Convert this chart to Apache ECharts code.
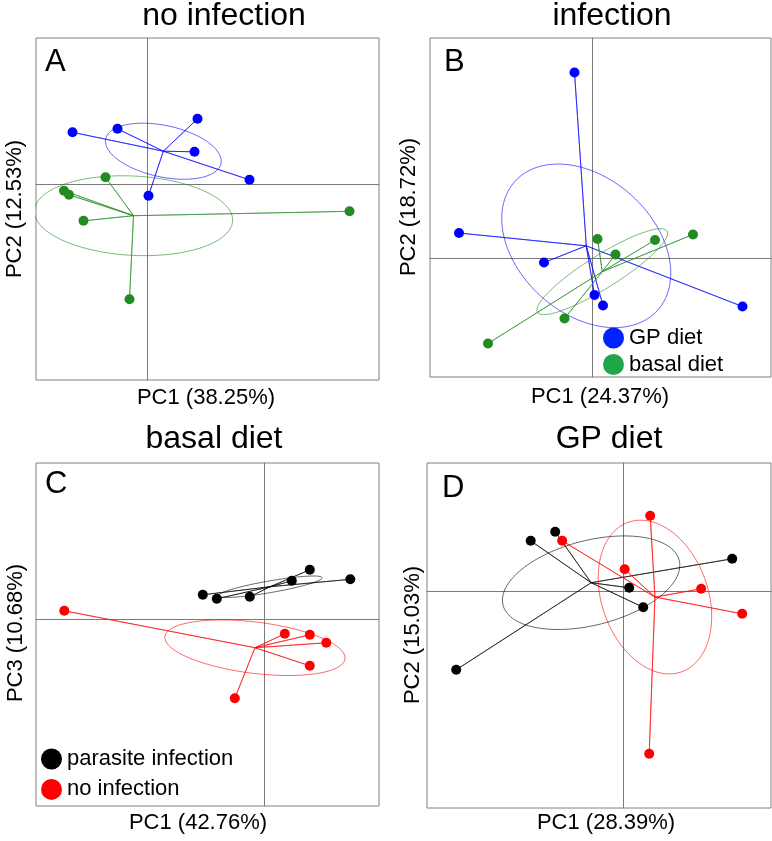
<!DOCTYPE html>
<html>
<head>
<meta charset="utf-8">
<script src="https://cdn.jsdelivr.net/npm/echarts@6/dist/echarts.min.js"></script>
<style>html,body{margin:0;padding:0;background:#fff}#c{width:772px;height:841px}</style>
</head>
<body>
<div id="c"></div>
<script>
// ---------- data (PCA scores) ----------
// Panel A: no infection (PC1 vs PC2)
const aGPx    = [-1.49, -0.59, 1.01, 0.95, 2.05, 0.03];
const aGPy    = [ 1.04,  1.11, 1.31, 0.65, 0.09, -0.23];
const aBasalx = [-0.83, -1.66, -1.56, -1.27, -0.35, 4.05];
const aBasaly = [ 0.14, -0.13, -0.21, -0.73, -2.30, -0.54];
// Panel B: infection (PC1 vs PC2)
const bGPx    = [-0.35, -2.66, -0.96, 0.05, 0.22, 3.01];
const bGPy    = [ 3.71,  0.50, -0.09, -0.74, -0.95, -0.97];
const bBasalx = [ 0.11, 1.26, 2.02, 0.47, -0.55, -2.08];
const bBasaly = [ 0.38, 0.36, 0.47, 0.07, -1.21, -1.71];
// Panel C: basal diet (PC1 vs PC3)
const cInfx   = [0.91, 1.72, 0.55, -1.23, -0.95, -0.29];
const cInfy   = [0.99, 0.80, 0.77, 0.49, 0.41, 0.45];
const cNoInfx = [-4.00, 0.41, 0.91, 1.24, 0.91, -0.59];
const cNoInfy = [ 0.17, -0.29, -0.31, -0.47, -0.93, -1.58];
// Panel D: GP diet (PC1 vs PC2)
const dInfx   = [-1.86, -1.37, 0.11, 0.39, 2.17, -3.35];
const dInfy   = [ 1.01, 1.19, 0.07, -0.32, 0.65, -1.57];
const dNoInfx = [0.53, -1.23, 0.02, 1.55, 2.37, 0.51];
const dNoInfy = [1.51, 1.01, 0.44, 0.05, -0.45, -3.25];

const panelTitles  = ['no infection', 'infection', 'basal diet', 'GP diet'];
const panelLetters = ['A', 'B', 'C', 'D'];
const xLabels = ['PC1 (38.25%)', 'PC1 (24.37%)', 'PC1 (42.76%)', 'PC1 (28.39%)'];
const yLabels = ['PC2 (12.53%)', 'PC2 (18.72%)', 'PC3 (10.68%)', 'PC2 (15.03%)'];
const dietNames = ['GP diet', 'basal diet'];
const infNames  = ['parasite infection', 'no infection'];

// ---------- layout / style ----------
const grids = [
  {left: 36,  top: 38,  width: 343, height: 342},
  {left: 430, top: 38,  width: 341, height: 339},
  {left: 36,  top: 463, width: 343, height: 343},
  {left: 427, top: 463, width: 344, height: 345}
];
const ranges = [
  {xmin: -2.22,  xmax: 4.64,  ymin: -3.914, ymax: 2.926},
  {xmin: -3.24,  xmax: 3.58,  ymin: -2.38,  ymax: 4.40},
  {xmin: -4.566, xmax: 2.294, ymin: -3.734, ymax: 3.126},
  {xmin: -3.934, xmax: 2.946, ymin: -4.334, ymax: 2.566}
];
const BLUE = '#0000ff', GREEN = '#228b22', RED = '#ff0000', BLACK = '#000000';
const FONT = '"Liberation Sans", Arial, Helvetica, sans-serif';

function zip(xs, ys){ return xs.map((x, i) => [x, ys[i]]); }
function centroid(xs, ys){
  const n = xs.length;
  return [xs.reduce((a,b)=>a+b,0)/n, ys.reduce((a,b)=>a+b,0)/n];
}
function spider(xs, ys){
  const c = centroid(xs, ys), out = [];
  xs.forEach((x, i) => { out.push(c); out.push([x, ys[i]]); });
  out.push(c);
  return out;
}
function ellipse(xs, ys){
  const n = xs.length, c = centroid(xs, ys);
  let sxx = 0, syy = 0, sxy = 0;
  xs.forEach((x, i) => {
    const dx = x - c[0], dy = ys[i] - c[1];
    sxx += dx*dx; syy += dy*dy; sxy += dx*dy;
  });
  sxx /= n; syy /= n; sxy /= n;
  const tr = sxx + syy, det = sxx*syy - sxy*sxy;
  const d = Math.sqrt(Math.max(tr*tr/4 - det, 0));
  const l1 = tr/2 + d, l2 = Math.max(tr/2 - d, 0);
  let vx, vy;
  if (Math.abs(sxy) > 1e-12) { vx = l1 - syy; vy = sxy; }
  else if (sxx >= syy) { vx = 1; vy = 0; } else { vx = 0; vy = 1; }
  const norm = Math.hypot(vx, vy); vx /= norm; vy /= norm;
  const a = Math.sqrt(l1), b = Math.sqrt(l2), pts = [];
  for (let k = 0; k <= 120; k++) {
    const t = 2*Math.PI*k/120, ct = Math.cos(t)*a, st = Math.sin(t)*b;
    pts.push([c[0] + ct*vx - st*vy, c[1] + ct*vy + st*vx]);
  }
  return pts;
}

const groups = [
  {p: 0, name: dietNames[0], xs: aGPx, ys: aGPy, color: BLUE},
  {p: 0, name: dietNames[1], xs: aBasalx, ys: aBasaly, color: GREEN},
  {p: 1, name: dietNames[0], xs: bGPx, ys: bGPy, color: BLUE},
  {p: 1, name: dietNames[1], xs: bBasalx, ys: bBasaly, color: GREEN},
  {p: 2, name: infNames[0], xs: cInfx, ys: cInfy, color: BLACK},
  {p: 2, name: infNames[1], xs: cNoInfx, ys: cNoInfy, color: RED},
  {p: 3, name: infNames[0], xs: dInfx, ys: dInfy, color: BLACK},
  {p: 3, name: infNames[1], xs: dNoInfx, ys: dNoInfy, color: RED}
];

const series = [];
groups.forEach(g => {
  series.push({
    type: 'line', name: g.name + ' links', xAxisIndex: g.p, yAxisIndex: g.p,
    data: spider(g.xs, g.ys), symbol: 'none', silent: true, z: 2,
    lineStyle: {color: g.color, width: 0.7, opacity: 0.85}
  });
  series.push({
    type: 'line', name: g.name + ' ellipse', xAxisIndex: g.p, yAxisIndex: g.p,
    data: ellipse(g.xs, g.ys), symbol: 'none', silent: true, z: 2,
    lineStyle: {color: g.color, width: 0.7, opacity: 0.85}
  });
});
groups.forEach(g => {
  series.push({
    type: 'scatter', name: g.name, xAxisIndex: g.p, yAxisIndex: g.p,
    data: zip(g.xs, g.ys), symbol: 'circle', symbolSize: 10, z: 5,
    itemStyle: {color: g.color, opacity: 1}
  });
});

const axisCommon = {
  type: 'value',
  axisLine: {show: true, onZero: true, lineStyle: {color: '#7a7a7a', width: 1}},
  axisTick: {show: false}, axisLabel: {show: false}, splitLine: {show: false}
};

// text elements
const titlePos  = [[224, 16], [612, 16], [214, 439], [609, 439]];
const letterPos = [[45, 62], [444, 62], [45, 484], [442, 488]];
const xLabPos   = [[206, 398], [600, 397], [198, 823], [606, 823]];
const yLabPos   = [[15, 209], [409, 207], [16, 633], [413, 635]];
const graphics = [];
for (let i = 0; i < 4; i++) {
  graphics.push({type: 'text', x: titlePos[i][0], y: titlePos[i][1],
    style: {text: panelTitles[i], font: '32px ' + FONT, fill: '#000', align: 'center', verticalAlign: 'middle'}});
  graphics.push({type: 'text', x: letterPos[i][0], y: letterPos[i][1],
    style: {text: panelLetters[i], font: '31px ' + FONT, fill: '#000', align: 'left', verticalAlign: 'middle'}});
  graphics.push({type: 'text', x: xLabPos[i][0], y: xLabPos[i][1],
    style: {text: xLabels[i], font: '22px ' + FONT, fill: '#000', align: 'center', verticalAlign: 'middle'}});
  graphics.push({type: 'text', x: yLabPos[i][0], y: yLabPos[i][1], rotation: Math.PI/2,
    style: {text: yLabels[i], font: '22px ' + FONT, fill: '#000', align: 'center', verticalAlign: 'middle'}});
}

const option = {
  animation: false,
  backgroundColor: '#ffffff',
  grid: grids.map(g => Object.assign({show: true, borderColor: '#808080', borderWidth: 1,
    backgroundColor: 'transparent', containLabel: false}, g)),
  xAxis: ranges.map((r, i) => Object.assign({gridIndex: i, min: r.xmin, max: r.xmax}, axisCommon)),
  yAxis: ranges.map((r, i) => Object.assign({gridIndex: i, min: r.ymin, max: r.ymax}, axisCommon)),
  legend: [
    {data: [{name: dietNames[0], itemStyle: {color: '#0022ff'}},
            {name: dietNames[1], itemStyle: {color: '#1ea64a'}}],
     orient: 'vertical', left: 603, top: 327, itemWidth: 21, itemHeight: 21, itemGap: 4.5,
     icon: 'circle', selectedMode: false, padding: 0,
     textStyle: {fontSize: 22, fontFamily: FONT, color: '#000', lineHeight: 21}},
    {data: [{name: infNames[0], itemStyle: {color: BLACK}},
            {name: infNames[1], itemStyle: {color: RED}}],
     orient: 'vertical', left: 41, top: 748, itemWidth: 21, itemHeight: 21, itemGap: 8.4,
     icon: 'circle', selectedMode: false, padding: 0,
     textStyle: {fontSize: 22, fontFamily: FONT, color: '#000', lineHeight: 21}}
  ],
  graphic: graphics,
  series: series
};

const chart = echarts.init(document.getElementById('c'), null, {renderer: 'canvas'});
chart.setOption(option);
</script>
</body>
</html>
